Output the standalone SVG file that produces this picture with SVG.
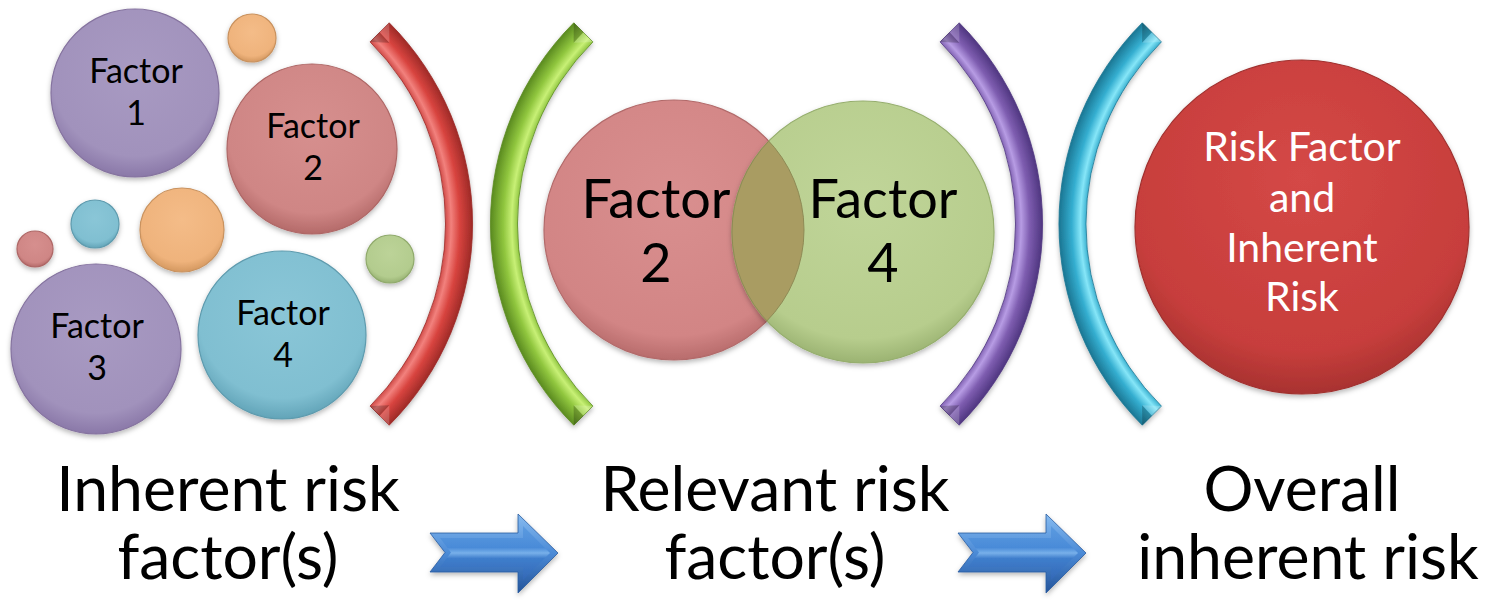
<svg xmlns="http://www.w3.org/2000/svg" width="1491" height="604" viewBox="0 0 1491 604">
  <style>
    .lbl { font-family: Lato, "Liberation Sans", sans-serif; fill: #000; text-anchor: middle; }
    .sm { font-size: 34px; }
    .md { font-size: 54px; }
    .wh { font-family: Lato, "Liberation Sans", sans-serif; fill: #fff; text-anchor: middle; font-size: 41px; }
    .big { font-size: 62.5px; }
    .rim { stroke-width: 1.2; }
    .facet-d { fill: #000; fill-opacity: 0.22; }
    .facet-l { fill: #fff; fill-opacity: 0.18; }
  </style>
  <defs>
    <filter id="shadow" x="-20%" y="-20%" width="140%" height="150%">
      <feDropShadow dx="0" dy="2.5" stdDeviation="2.5" flood-color="#000" flood-opacity="0.28"/>
    </filter>
    <!-- glossy bubble fills -->
    <radialGradient id="gPurple" cx="50%" cy="38%" r="62%">
      <stop offset="0" stop-color="#A89AC2"/><stop offset="0.8" stop-color="#A192BC"/><stop offset="1" stop-color="#8A78A8"/>
    </radialGradient>
    <radialGradient id="gPink" cx="50%" cy="38%" r="62%">
      <stop offset="0" stop-color="#D68F8E"/><stop offset="0.8" stop-color="#CF8685"/><stop offset="1" stop-color="#B46A69"/>
    </radialGradient>
    <radialGradient id="gBlue" cx="50%" cy="38%" r="62%">
      <stop offset="0" stop-color="#8AC6D7"/><stop offset="0.8" stop-color="#80BFD1"/><stop offset="1" stop-color="#62A4B8"/>
    </radialGradient>
    <radialGradient id="gOrange" cx="50%" cy="38%" r="62%">
      <stop offset="0" stop-color="#F4BC88"/><stop offset="0.8" stop-color="#EFB37C"/><stop offset="1" stop-color="#D49860"/>
    </radialGradient>
    <radialGradient id="gGreen" cx="50%" cy="38%" r="62%">
      <stop offset="0" stop-color="#BCD398"/><stop offset="0.8" stop-color="#B3CC8E"/><stop offset="1" stop-color="#97B172"/>
    </radialGradient>
    <radialGradient id="gVennR" cx="50%" cy="38%" r="62%">
      <stop offset="0" stop-color="#D98F8F"/><stop offset="0.85" stop-color="#D28585"/><stop offset="1" stop-color="#B86C6C"/>
    </radialGradient>
    <radialGradient id="gVennG" cx="50%" cy="38%" r="62%">
      <stop offset="0" stop-color="#C0D599"/><stop offset="0.85" stop-color="#B7CD8D"/><stop offset="1" stop-color="#9BB372"/>
    </radialGradient>
    <radialGradient id="gRed" cx="50%" cy="35%" r="65%">
      <stop offset="0" stop-color="#D44846"/><stop offset="0.8" stop-color="#C73E3C"/><stop offset="1" stop-color="#A83230"/>
    </radialGradient>
    <!-- curved bands: shading runs across the band width -->
    <radialGradient id="bRed" gradientUnits="userSpaceOnUse" cx="188" cy="224" r="284.5">
      <stop offset="0.9" stop-color="#C9403D"/><stop offset="0.925" stop-color="#F2817D"/><stop offset="0.955" stop-color="#D8443F"/><stop offset="1" stop-color="#9E2A27"/>
    </radialGradient>
    <radialGradient id="bGreen" gradientUnits="userSpaceOnUse" cx="775" cy="224" r="284.5">
      <stop offset="0.9" stop-color="#86BE38"/><stop offset="0.925" stop-color="#C8F076"/><stop offset="0.955" stop-color="#90C63E"/><stop offset="1" stop-color="#5A8A20"/>
    </radialGradient>
    <radialGradient id="bPurple" gradientUnits="userSpaceOnUse" cx="758" cy="224" r="284.5">
      <stop offset="0.9" stop-color="#7858AA"/><stop offset="0.925" stop-color="#B79CE4"/><stop offset="0.955" stop-color="#7E5DB0"/><stop offset="1" stop-color="#4F3680"/>
    </radialGradient>
    <radialGradient id="bCyan" gradientUnits="userSpaceOnUse" cx="1343.5" cy="224" r="284.5">
      <stop offset="0.9" stop-color="#2CA6C8"/><stop offset="0.925" stop-color="#86E6F8"/><stop offset="0.955" stop-color="#34AED0"/><stop offset="1" stop-color="#1B7693"/>
    </radialGradient>
    <!-- arrow bevel: outer rim and inner face -->
    <linearGradient id="gArrowRim" x1="0" y1="0" x2="0" y2="1">
      <stop offset="0" stop-color="#86BBF0"/><stop offset="0.5" stop-color="#4B8AD6"/><stop offset="1" stop-color="#24549A"/>
    </linearGradient>
    <linearGradient id="gArrowFace" x1="0" y1="0" x2="0" y2="1">
      <stop offset="0" stop-color="#5C9BE0"/><stop offset="0.4" stop-color="#4A8BD8"/><stop offset="0.5" stop-color="#78B0EA"/><stop offset="0.6" stop-color="#3F7ECC"/><stop offset="1" stop-color="#3468B6"/>
    </linearGradient>
    <clipPath id="vennClipR"><circle cx="674" cy="230" r="130"/></clipPath>
    <clipPath id="vennClipG"><circle cx="863" cy="232" r="131"/></clipPath>
    <path id="arrowOuter" d="M0 19 L88 19 L88 0 L128 39 L88 79 L88 58 L0 58 L15 38.5 Z"/>
    <path id="arrowInner" d="M10 24 L93 24 L93 12 L120 39 L93 66 L93 53 L10 53 L21 38.5 Z"/>
  </defs>

  <!-- stage 1: scattered bubbles -->
  <g id="bubble-orange-top" filter="url(#shadow)"><circle cx="252" cy="38" r="24" fill="url(#gOrange)" stroke="#C9925E" class="rim"/></g>
  <g id="bubble-orange-mid" filter="url(#shadow)"><circle cx="182" cy="230" r="42" fill="url(#gOrange)" stroke="#C9925E" class="rim"/></g>
  <g id="bubble-blue-small" filter="url(#shadow)"><circle cx="95" cy="224" r="24" fill="url(#gBlue)" stroke="#5E9BAE" class="rim"/></g>
  <g id="bubble-red-small" filter="url(#shadow)"><circle cx="35" cy="249" r="18" fill="url(#gPink)" stroke="#AE6766" class="rim"/></g>
  <g id="bubble-green-small" filter="url(#shadow)"><circle cx="390" cy="259" r="24" fill="url(#gGreen)" stroke="#90AA6C" class="rim"/></g>

  <g id="factor-1">
    <circle cx="135" cy="93" r="84" fill="url(#gPurple)" stroke="#85739F" class="rim" filter="url(#shadow)"/>
    <text class="lbl sm" x="136" y="83">Factor</text>
    <text class="lbl sm" x="136" y="125">1</text>
  </g>
  <g id="factor-2">
    <circle cx="312" cy="149" r="85" fill="url(#gPink)" stroke="#AE6766" class="rim" filter="url(#shadow)"/>
    <text class="lbl sm" x="313" y="138">Factor</text>
    <text class="lbl sm" x="313" y="180">2</text>
  </g>
  <g id="factor-3">
    <circle cx="96" cy="349" r="85" fill="url(#gPurple)" stroke="#85739F" class="rim" filter="url(#shadow)"/>
    <text class="lbl sm" x="97" y="338">Factor</text>
    <text class="lbl sm" x="97" y="380">3</text>
  </g>
  <g id="factor-4">
    <circle cx="282" cy="335" r="84" fill="url(#gBlue)" stroke="#5E9BAE" class="rim" filter="url(#shadow)"/>
    <text class="lbl sm" x="283" y="325">Factor</text>
    <text class="lbl sm" x="283" y="367">4</text>
  </g>

  <!-- curved dividers with bevelled ends -->
  <g id="bracket-red" filter="url(#shadow)">
    <path d="M370.1 41.9 L389.2 22.8 A284.5 284.5 0 0 1 389.2 425.2 L370.1 406.1 A257.5 257.5 0 0 0 370.1 41.9 Z" fill="url(#bRed)" stroke="#9A2826" stroke-width="0.8"/>
    <path class="facet-d" d="M370.1 41.9 L379.6 32.3 L389.4 42.7 Z"/>
    <path class="facet-l" d="M379.6 32.3 L389.2 22.8 L389.4 42.7 Z"/>
    <path class="facet-d" d="M370.1 406.1 L379.6 415.7 L389.4 405.3 Z"/>
    <path class="facet-l" d="M379.6 415.7 L389.2 425.2 L389.4 405.3 Z"/>
  </g>
  <g id="bracket-green" filter="url(#shadow)">
    <path d="M592.9 41.9 L573.8 22.8 A284.5 284.5 0 0 0 573.8 425.2 L592.9 406.1 A257.5 257.5 0 0 1 592.9 41.9 Z" fill="url(#bGreen)" stroke="#5A8A20" stroke-width="0.8"/>
    <path class="facet-l" d="M592.9 41.9 L583.4 32.3 L573.6 42.7 Z"/>
    <path class="facet-d" d="M583.4 32.3 L573.8 22.8 L573.6 42.7 Z"/>
    <path class="facet-l" d="M592.9 406.1 L583.4 415.7 L573.6 405.3 Z"/>
    <path class="facet-d" d="M583.4 415.7 L573.8 425.2 L573.6 405.3 Z"/>
  </g>

  <!-- stage 2: overlapping pair -->
  <g id="venn-factor-2">
    <circle cx="674" cy="230" r="130" fill="url(#gVennR)" stroke="#B26A6A" class="rim" filter="url(#shadow)"/>
  </g>
  <g id="venn-factor-4">
    <circle cx="863" cy="232" r="131" fill="url(#gVennG)" stroke="#96AE6E" class="rim" filter="url(#shadow)"/>
    <circle cx="863" cy="232" r="131" fill="#A99C62" clip-path="url(#vennClipR)"/>
    <circle cx="863" cy="232" r="131" fill="none" stroke="#8E8A55" stroke-width="1" clip-path="url(#vennClipR)"/>
    <circle cx="674" cy="230" r="130" fill="none" stroke="#8E8A55" stroke-width="1" clip-path="url(#vennClipG)"/>
  </g>
  <g id="venn-labels">
    <text class="lbl md" x="656" y="218">Factor</text>
    <text class="lbl md" x="656" y="282">2</text>
    <text class="lbl md" x="883" y="218">Factor</text>
    <text class="lbl md" x="883" y="282">4</text>
  </g>

  <g id="bracket-purple" filter="url(#shadow)">
    <path d="M940.1 41.9 L959.2 22.8 A284.5 284.5 0 0 1 959.2 425.2 L940.1 406.1 A257.5 257.5 0 0 0 940.1 41.9 Z" fill="url(#bPurple)" stroke="#4F3680" stroke-width="0.8"/>
    <path class="facet-d" d="M940.1 41.9 L949.6 32.3 L959.4 42.7 Z"/>
    <path class="facet-l" d="M949.6 32.3 L959.2 22.8 L959.4 42.7 Z"/>
    <path class="facet-d" d="M940.1 406.1 L949.6 415.7 L959.4 405.3 Z"/>
    <path class="facet-l" d="M949.6 415.7 L959.2 425.2 L959.4 405.3 Z"/>
  </g>
  <g id="bracket-cyan" filter="url(#shadow)">
    <path d="M1161.4 41.9 L1142.3 22.8 A284.5 284.5 0 0 0 1142.3 425.2 L1161.4 406.1 A257.5 257.5 0 0 1 1161.4 41.9 Z" fill="url(#bCyan)" stroke="#1B7693" stroke-width="0.8"/>
    <path class="facet-l" d="M1161.4 41.9 L1151.9 32.3 L1142.1 42.7 Z"/>
    <path class="facet-d" d="M1151.9 32.3 L1142.3 22.8 L1142.1 42.7 Z"/>
    <path class="facet-l" d="M1161.4 406.1 L1151.9 415.7 L1142.1 405.3 Z"/>
    <path class="facet-d" d="M1151.9 415.7 L1142.3 425.2 L1142.1 405.3 Z"/>
  </g>

  <!-- stage 3: result -->
  <g id="overall-risk">
    <circle cx="1302" cy="227" r="167" fill="url(#gRed)" stroke="#A0302E" class="rim" filter="url(#shadow)"/>
    <text class="wh" x="1302" y="161">Risk Factor</text>
    <text class="wh" x="1302" y="212">and</text>
    <text class="wh" x="1302" y="262">Inherent</text>
    <text class="wh" x="1302" y="311">Risk</text>
  </g>

  <!-- stage captions -->
  <g id="caption-inherent">
    <text class="lbl big" x="228" y="511">Inherent risk</text>
    <text class="lbl big" x="228" y="579">factor(s)</text>
  </g>
  <g id="caption-relevant">
    <text class="lbl big" x="775" y="511">Relevant risk</text>
    <text class="lbl big" x="775" y="579">factor(s)</text>
  </g>
  <g id="caption-overall">
    <text class="lbl big" x="1302" y="511">Overall</text>
    <text class="lbl big" x="1308" y="579">inherent risk</text>
  </g>

  <!-- flow arrows -->
  <g id="connectors">
    <g transform="translate(430 514)" filter="url(#shadow)">
      <use href="#arrowOuter" fill="url(#gArrowRim)" stroke="#2A5C9F" stroke-width="0.8"/>
      <use href="#arrowInner" fill="url(#gArrowFace)"/>
    </g>
    <g transform="translate(958 514)" filter="url(#shadow)">
      <use href="#arrowOuter" fill="url(#gArrowRim)" stroke="#2A5C9F" stroke-width="0.8"/>
      <use href="#arrowInner" fill="url(#gArrowFace)"/>
    </g>
  </g>
</svg>
